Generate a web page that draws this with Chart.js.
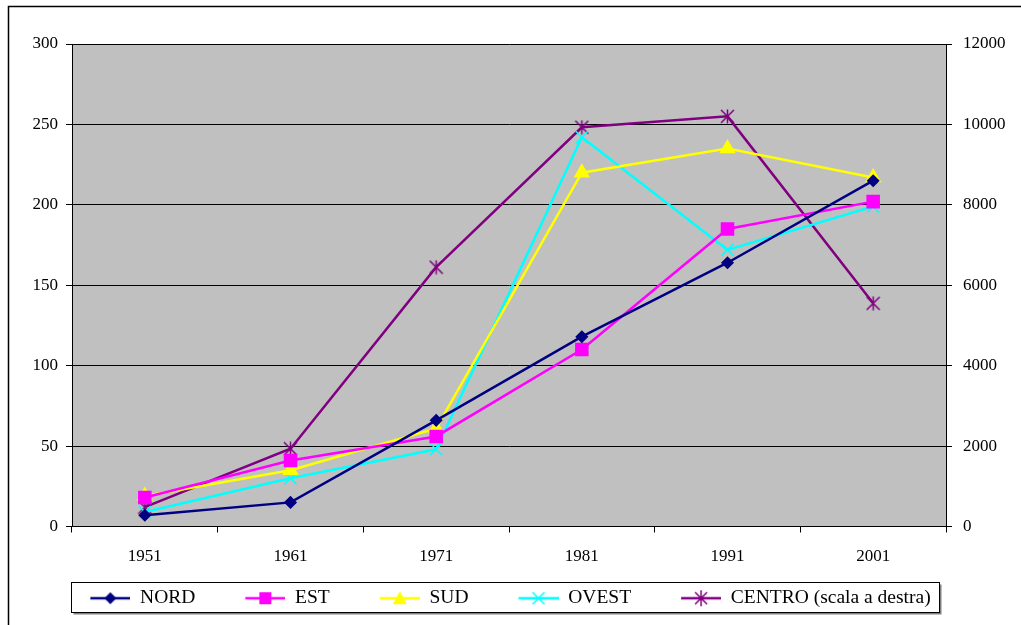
<!DOCTYPE html>
<html>
<head>
<meta charset="utf-8">
<script src="https://cdn.jsdelivr.net/npm/chart.js@4/dist/chart.umd.min.js"></script>
<style>
  html, body { margin: 0; padding: 0; background: #fff; }
  #wrap { width: 1021px; height: 625px; position: relative; }
</style>
</head>
<body>
<div id="wrap"><canvas id="c" width="1021" height="625"></canvas></div>
<script>
// Census years and population per zone
const years = ['1951', '1961', '1971', '1981', '1991', '2001'];
const nord = [7, 15, 66, 118, 164, 215];
const est = [18, 41, 56, 110, 185, 202];
const sud = [19, 35, 61, 220, 235, 217];
const ovest = [9, 30, 48, 242, 172, 199];
const centro = [480, 1935, 6450, 9930, 10200, 5550]; // right-hand scale

const leftTicks = [0, 50, 100, 150, 200, 250, 300];
const rightTicks = [0, 2000, 4000, 6000, 8000, 10000, 12000];

const FONT = '"Liberation Serif", "Times New Roman", serif';
const SWATCH_MARGIN = 40; // blank space before each legend swatch
const SWATCH_LINE = 40;

// Asterisk marker: an X with a vertical bar
function asteriskCanvas(color, size) {
  const c = document.createElement('canvas');
  c.width = size; c.height = size;
  const g = c.getContext('2d');
  g.strokeStyle = color; g.lineWidth = 1.5;
  const m = size / 2, r = size / 2 - 1;
  g.beginPath();
  g.moveTo(m - r, m - r); g.lineTo(m + r, m + r);
  g.moveTo(m + r, m - r); g.lineTo(m - r, m + r);
  g.moveTo(m, 0.5); g.lineTo(m, size - 0.5);
  g.stroke();
  return c;
}

// Legend swatch: short line with the series marker in the middle
function swatch(color, style) {
  const w = SWATCH_MARGIN + SWATCH_LINE, h = 18;
  const c = document.createElement('canvas');
  c.width = w; c.height = h;
  const g = c.getContext('2d');
  const cx = SWATCH_MARGIN + SWATCH_LINE / 2, cy = h / 2;
  g.strokeStyle = color; g.lineWidth = 2.5;
  g.beginPath(); g.moveTo(SWATCH_MARGIN, cy); g.lineTo(w, cy); g.stroke();
  g.fillStyle = color;
  g.beginPath();
  if (style === 'diamond') {
    g.moveTo(cx, cy - 6); g.lineTo(cx + 6, cy); g.lineTo(cx, cy + 6); g.lineTo(cx - 6, cy); g.closePath(); g.fill();
  } else if (style === 'square') {
    g.fillRect(cx - 6, cy - 6, 12, 12);
  } else if (style === 'triangle') {
    g.moveTo(cx, cy - 7); g.lineTo(cx + 7, cy + 6); g.lineTo(cx - 7, cy + 6); g.closePath(); g.fill();
  } else if (style === 'x') {
    g.lineWidth = 1.5;
    g.moveTo(cx - 6, cy - 6); g.lineTo(cx + 6, cy + 6);
    g.moveTo(cx + 6, cy - 6); g.lineTo(cx - 6, cy + 6); g.stroke();
  } else if (style === 'star') {
    g.lineWidth = 1.5;
    g.moveTo(cx - 6, cy - 6); g.lineTo(cx + 6, cy + 6);
    g.moveTo(cx + 6, cy - 6); g.lineTo(cx - 6, cy + 6);
    g.moveTo(cx, cy - 8); g.lineTo(cx, cy + 8); g.stroke();
  }
  return c;
}

const series = [
  { label: 'NORD', data: nord, color: '#000080', pointStyle: 'rectRot', radius: 5.5, legend: 'diamond', axis: 'y' },
  { label: 'EST', data: est, color: '#FF00FF', pointStyle: 'rect', radius: 8.5, legend: 'square', axis: 'y' },
  { label: 'SUD', data: sud, color: '#FFFF00', pointStyle: 'triangle', radius: 8, legend: 'triangle', axis: 'y' },
  { label: 'OVEST', data: ovest, color: '#00FFFF', pointStyle: 'crossRot', radius: 8.5, legend: 'x', axis: 'y' },
  { label: 'CENTRO (scala a destra)', data: centro, color: '#800080', pointStyle: asteriskCanvas('#800080', 15), radius: 7, legend: 'star', axis: 'y1' }
];

const datasets = series.map(s => ({
  label: s.label,
  data: s.data,
  yAxisID: s.axis,
  borderColor: s.color,
  backgroundColor: s.color,
  borderWidth: 2.5,
  tension: 0,
  pointStyle: s.pointStyle,
  pointRadius: s.radius,
  pointHoverRadius: s.radius,
  pointBorderWidth: 1.5,
  pointBorderColor: s.color,
  pointBackgroundColor: s.color,
  legendSwatch: swatch(s.color, s.legend)
}));

// Page frame, grey plot background and legend box
const framePlugin = {
  id: 'frame',
  afterLayout(chart) {
    // balance the blank lead-in of the swatches so the legend row sits centred
    chart.legend.right -= 2 * (SWATCH_MARGIN / 2);
  },
  beforeDraw(chart) {
    const ctx = chart.ctx;
    const a = chart.chartArea;
    ctx.save();
    ctx.fillStyle = '#ffffff';
    ctx.fillRect(0, 0, chart.width, chart.height);
    ctx.strokeStyle = '#000';
    ctx.lineWidth = 1.5;
    ctx.strokeRect(8.5, 6.5, chart.width + 20, chart.height + 20);
    ctx.fillStyle = '#C0C0C0';
    ctx.fillRect(a.left, a.top, a.right - a.left, a.bottom - a.top);
    const lg = chart.legend;
    const bx = a.left - 0.5, by = Math.round(lg.top) + 3.5, bw = 868, bh = 30;
    ctx.fillStyle = '#808080';
    ctx.fillRect(bx + 2, by + 2, bw, bh);
    ctx.fillStyle = '#ffffff';
    ctx.fillRect(bx, by, bw, bh);
    ctx.strokeStyle = '#000';
    ctx.lineWidth = 1;
    ctx.strokeRect(bx, by, bw, bh);
    ctx.restore();
  }
};

new Chart(document.getElementById('c'), {
  type: 'line',
  data: { labels: years, datasets },
  plugins: [framePlugin],
  options: {
    responsive: false,
    animation: false,
    layout: { padding: { top: 44, left: 0, right: 0, bottom: 7 } },
    plugins: {
      tooltip: { enabled: false },
      legend: {
        position: 'bottom',
        labels: {
          usePointStyle: true,
          pointStyleWidth: SWATCH_MARGIN + SWATCH_LINE,
          padding: 10,
          color: '#000',
          font: { family: FONT, size: 19.5 },
          generateLabels(chart) {
            return chart.data.datasets.map((d, i) => ({
              text: d.label,
              pointStyle: d.legendSwatch,
              fillStyle: d.borderColor,
              strokeStyle: d.borderColor,
              lineWidth: 0,
              hidden: false,
              datasetIndex: i,
              fontColor: '#000'
            }));
          }
        }
      }
    },
    scales: {
      x: {
        type: 'category',
        offset: true,
        afterFit(scale) { scale.height = 52; },
        border: { color: '#000', width: 1 },
        grid: { offset: true, drawOnChartArea: false, color: '#000', tickLength: 6, tickColor: '#000' },
        ticks: { color: '#000', padding: 14, font: { family: FONT, size: 17 }, maxRotation: 0 }
      },
      y: {
        position: 'left',
        min: 0, max: 300,
        afterFit(scale) { scale.width = 72; },
        afterBuildTicks(scale) { scale.ticks = leftTicks.map(v => ({ value: v })); },
        border: { color: '#000', width: 1 },
        grid: { color: '#000', lineWidth: 1, tickLength: 6, tickColor: '#000' },
        ticks: { color: '#000', padding: 8, font: { family: FONT, size: 17 } }
      },
      y1: {
        position: 'right',
        min: 0, max: 12000,
        afterFit(scale) { scale.width = 75; },
        afterBuildTicks(scale) { scale.ticks = rightTicks.map(v => ({ value: v })); },
        border: { color: '#000', width: 1 },
        grid: { drawOnChartArea: false, color: '#000', tickLength: 6, tickColor: '#000' },
        ticks: { color: '#000', padding: 11, font: { family: FONT, size: 17 }, callback: v => String(v) }
      }
    }
  }
});
</script>
</body>
</html>
